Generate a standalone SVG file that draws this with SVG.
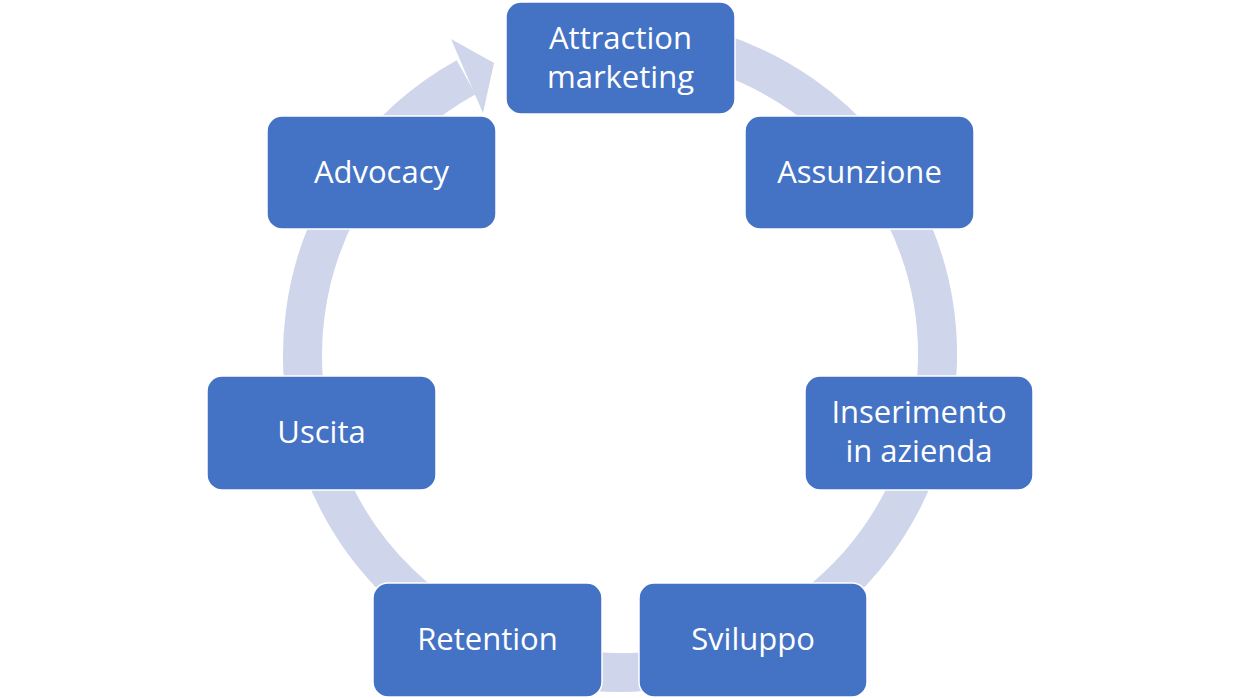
<svg xmlns="http://www.w3.org/2000/svg" width="1240" height="698" viewBox="0 0 1240 698">
<style>
.box{fill:#4472C4;stroke:#ffffff;stroke-width:1.5}
.lbl{font-family:"Open Sans","Liberation Sans",sans-serif;font-size:31px;fill:#ffffff;text-anchor:middle}
.ring{fill:none;stroke:#CFD5EA;stroke-width:39}
</style>
<rect width="1240" height="698" fill="#ffffff"/>
<g id="connectors">
<path class="ring" d="M675.1,42.3 A317.5,317.5 0 1 1 466.1,77.3"/>
<polygon points="451,39 494,63 483,113" fill="#CFD5EA"/>
</g>
<g id="n-attraction"><rect class="box" x="506" y="2" width="229" height="112" rx="15"/><text class="lbl" x="620.5" y="49">Attraction</text><text class="lbl" x="620.5" y="88">marketing</text></g>
<g id="n-assunzione"><rect class="box" x="745" y="116" width="229" height="113" rx="15"/><text class="lbl" x="859.5" y="183">Assunzione</text></g>
<g id="n-inserimento"><rect class="box" x="805" y="376" width="228" height="114" rx="15"/><text class="lbl" x="919" y="423">Inserimento</text><text class="lbl" x="919" y="462">in azienda</text></g>
<g id="n-sviluppo"><rect class="box" x="639" y="583" width="228" height="114" rx="15"/><text class="lbl" x="753" y="650">Sviluppo</text></g>
<g id="n-retention"><rect class="box" x="373" y="583" width="229" height="114" rx="15"/><text class="lbl" x="487.5" y="650">Retention</text></g>
<g id="n-uscita"><rect class="box" x="207" y="376" width="229" height="114" rx="15"/><text class="lbl" x="321.5" y="443">Uscita</text></g>
<g id="n-advocacy"><rect class="box" x="267" y="116" width="229" height="113" rx="15"/><text class="lbl" x="381.5" y="183">Advocacy</text></g>
</svg>
